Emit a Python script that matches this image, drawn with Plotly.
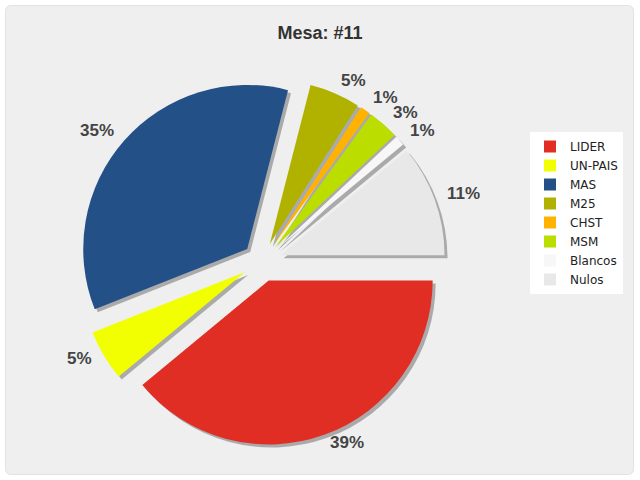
import math
import plotly.graph_objects as go

labels = ["LIDER", "UN-PAIS", "MAS", "M25", "CHST", "MSM", "Blancos", "Nulos"]
values = [39, 5, 35, 5, 1, 3, 1, 11]
colors = ["#e02e24", "#f2ff00", "#235087", "#b1b100", "#ffb300", "#bbdd00", "#f7f7f7", "#e8e8e8"]
title_text = "Mesa: #11"

W, H = 640, 480
cx, cy, R, pull = 262, 262, 164, 0.12
half = R * (1 + pull)
dom_x = [(cx - half) / W, (cx + half) / W]
dom_y = [1 - (cy + half) / H, 1 - (cy - half) / H]
sdx, sdy = 3 / W, 3 / H

fig = go.Figure()
# shadow
fig.add_trace(go.Pie(
    labels=labels, values=values, sort=False, direction="clockwise", rotation=90,
    pull=[pull] * len(values),
    marker=dict(colors=["#aaaaaa"] * len(values), line=dict(width=0)),
    textinfo="none", hoverinfo="skip", showlegend=False,
    domain=dict(x=[dom_x[0] + sdx, dom_x[1] + sdx], y=[dom_y[0] - sdy, dom_y[1] - sdy]),
))
fig.add_trace(go.Pie(
    labels=labels, values=values, sort=False, direction="clockwise", rotation=90,
    pull=[pull] * len(values),
    marker=dict(colors=colors, line=dict(width=0)),
    textinfo="none",
    domain=dict(x=dom_x, y=dom_y),
))

# data labels, positioned from the slice angles
total = sum(values)
annotations = []
acc = 0.0
for v in values:
    start = 90 + 360 * acc / total
    acc += v
    end = 90 + 360 * acc / total
    mid = math.radians((start + end) / 2)
    dx, dy = math.sin(mid), -math.cos(mid)
    vx, vy = cx + pull * R * dx, cy + pull * R * dy
    lx, ly = vx + (R + 11) * dx, vy + (R + 11) * dy - 3
    annotations.append(dict(
        x=lx / W, y=1 - ly / H, xref="paper", yref="paper",
        text=f"{round(100 * v / total)}%", showarrow=False,
        xanchor="left" if dx >= 0 else "right", yanchor="middle",
        font=dict(family="Liberation Sans, Arial", size=17, color="#444444", weight="bold"),
    ))

def rrect(x0, y0, x1, y1, r):
    def px(x): return x / W
    def py(y): return 1 - y / H
    return (f"M {px(x0 + r)},{py(y0)} L {px(x1 - r)},{py(y0)} Q {px(x1)},{py(y0)} {px(x1)},{py(y0 + r)} "
            f"L {px(x1)},{py(y1 - r)} Q {px(x1)},{py(y1)} {px(x1 - r)},{py(y1)} "
            f"L {px(x0 + r)},{py(y1)} Q {px(x0)},{py(y1)} {px(x0)},{py(y1 - r)} "
            f"L {px(x0)},{py(y0 + r)} Q {px(x0)},{py(y0)} {px(x0 + r)},{py(y0)} Z")

fig.update_layout(
    width=W, height=H,
    margin=dict(l=0, r=0, t=0, b=0, autoexpand=False),
    paper_bgcolor="white",
    title=dict(text=title_text, x=0.5, xanchor="center", y=1 - 33 / H, yanchor="middle",
               font=dict(family="Liberation Sans, Arial", size=18, color="#333333", weight="bold")),
    shapes=[dict(type="path", xref="paper", yref="paper", layer="below",
                 path=rrect(5.5, 5.5, 633.5, 474.5, 6),
                 fillcolor="#efefef", line=dict(color="#e2e2e2", width=1))],
    annotations=annotations,
    legend=dict(x=530 / W, xanchor="left", y=1 - 213 / H, yanchor="middle",
                bgcolor="white", bordercolor="white", borderwidth=0,
                font=dict(family="DejaVu Sans", size=12, color="#222222"),
                itemclick=False),
)

fig.write_html("out.html")
